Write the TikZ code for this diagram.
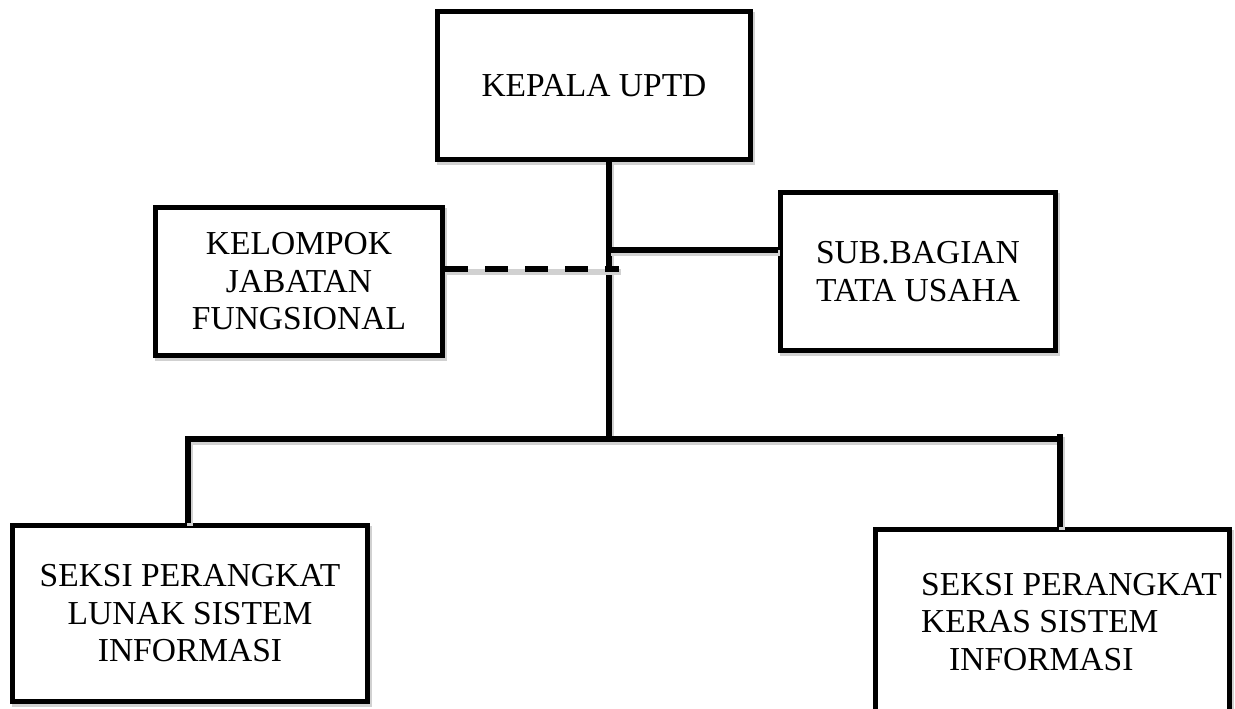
\documentclass[tikz,border=0pt]{standalone}
\usepackage{fontspec}
\setmainfont{Liberation Serif}
\begin{document}
\begin{tikzpicture}[x=1pt,y=-1pt,
  shad/.style={preaction={draw=black!18,line width=5.5pt,transform canvas={xshift=2pt,yshift=-3pt}}},
  txt/.style={inner sep=0pt,align=center,font=\fontsize{33.5}{37.5}\selectfont},
  orgbox/.style={shad,txt,draw=black,line width=5.5pt,fill=white},
  conn/.style={shad,draw=black,line width=5.5pt}
]
\useasboundingbox (0,0) rectangle (1235,709);
\begin{scope}
\clip (0,0) rectangle (1235,709);
\coordinate (trunk) at (609,437);
\coordinate (sj) at (609,250);
\coordinate (dj) at (619,269);
\coordinate (bl) at (188,439);
\coordinate (br) at (1060,439);

\node[orgbox,minimum width=313pt,minimum height=148pt] (kepala) at (594,85.5) {KEPALA UPTD};
\node[orgbox,minimum width=287pt,minimum height=148pt] (kjf) at (299,281.5) {KELOMPOK\\JABATAN\\FUNGSIONAL};
\node[orgbox,minimum width=275pt,minimum height=158pt] (sub) at (918,271.5) {SUB.BAGIAN\\TATA USAHA};
\node[orgbox,minimum width=355pt,minimum height=176pt] (lunak) at (190,613.5) {SEKSI PERANGKAT\\LUNAK SISTEM\\INFORMASI};
\node[orgbox,minimum width=354pt,minimum height=185pt] (keras) at (1052.5,622) {};
\node[txt,anchor=west,align=left] (kerastxt) at (921,622) {SEKSI PERANGKAT\\KERAS SISTEM\\\hspace*{28pt}INFORMASI};

\draw[conn] (kepala.south -| trunk) -- (trunk);
\draw[conn] (sj) -- (sub.west |- sj);
\draw[conn,dash pattern=on 23pt off 17pt] (kjf.east |- dj) -- (dj);
\draw[conn,line join=miter] (lunak.north -| bl) -- (bl) -- (br |- bl);
\draw[conn] (1060,434) -- (keras.north -| br);
\end{scope}
\end{tikzpicture}
\end{document}
